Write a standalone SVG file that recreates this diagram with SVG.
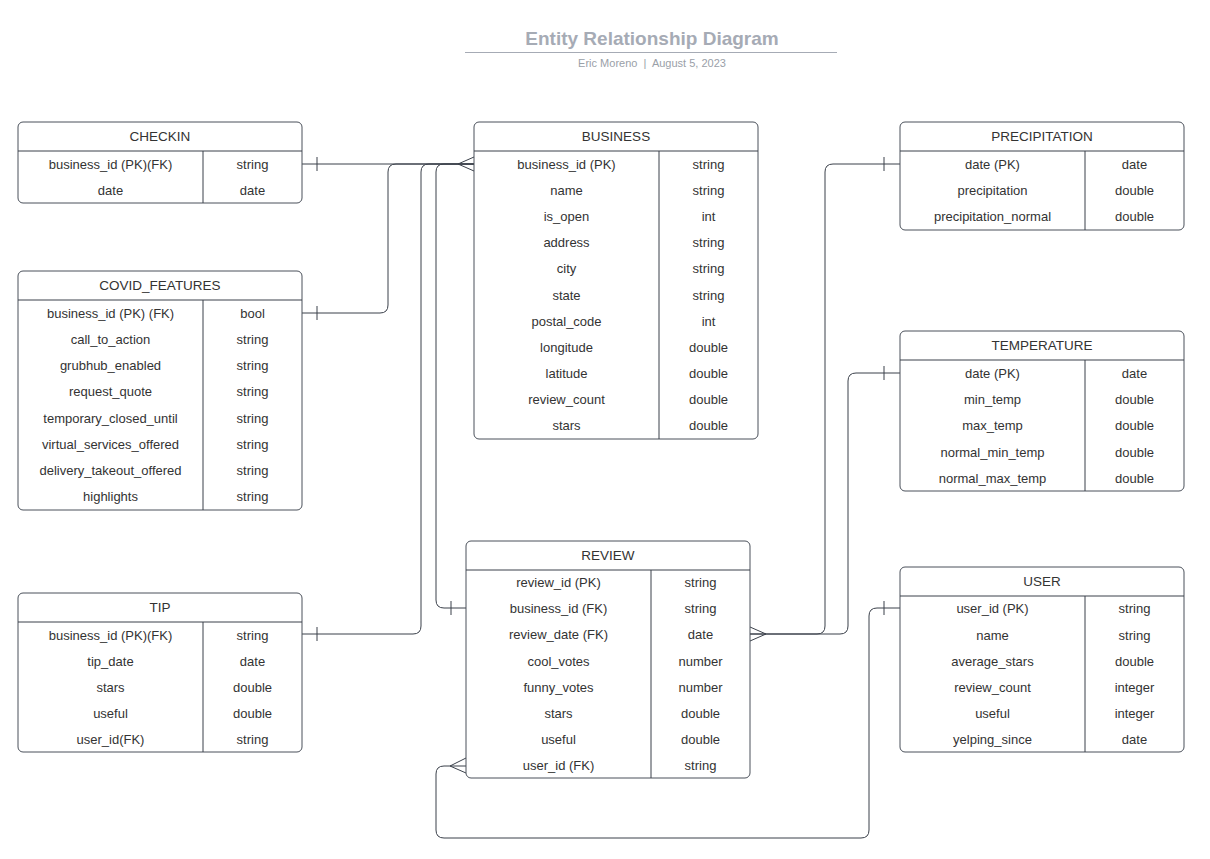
<svg xmlns="http://www.w3.org/2000/svg" width="1210" height="859" viewBox="0 0 1210 859">
<style>
.box{fill:#fff;stroke:#4a505a;stroke-width:1}
.ln{stroke:#3b414b;stroke-width:1;fill:none}
.t{font-family:"Liberation Sans",Arial,sans-serif;font-size:13px;fill:#333;text-anchor:middle;dominant-baseline:central}
.h{font-size:13.5px}
.cn{stroke:#3b414b;stroke-width:1;fill:none}
</style>
<rect width="1210" height="859" fill="#fff"/>
<g id="title">
<text x="652" y="45" text-anchor="middle" font-family="Liberation Sans,Arial,sans-serif" font-size="19" font-weight="bold" fill="#a6abb5">Entity Relationship Diagram</text>
<line x1="465" y1="52.5" x2="837" y2="52.5" stroke="#a6abb5" stroke-width="1"/>
<text x="652" y="67" text-anchor="middle" font-family="Liberation Sans,Arial,sans-serif" font-size="11" fill="#9aa0a8" xml:space="preserve" style="white-space:pre">Eric Moreno  |  August 5, 2023</text>
</g>
<g id="connectors">
<path class="cn" d="M302,164 H474"/>
<path class="cn" d="M302,313 H380 Q388,313 388,305 V172 Q388,164 396,164 H474"/>
<path class="cn" d="M302,634 H413 Q421,634 421,626 V172 Q421,164 429,164 H474"/>
<path class="cn" d="M466,608 H444 Q436,608 436,600 V172 Q436,164 444,164 H474"/>
<path class="cn" d="M750,634 H817 Q825,634 825,626 V172 Q825,164 833,164 H900"/>
<path class="cn" d="M750,634 H840 Q848,634 848,626 V381 Q848,373 856,373 H900"/>
<path class="cn" d="M900,608 H877 Q869,608 869,616 V830 Q869,838 861,838 H444 Q436,838 436,830 V774 Q436,766 444,766 H466"/>
<path class="cn" d="M317,157 V171 M317,306 V320 M317,627 V641 M451,601 V615 M884,157 V171 M884,366 V380 M884,601 V615"/>
<path class="cn" d="M474,157 L458,164 L474,171"/>
<path class="cn" d="M750,627 L766,634 L750,641"/>
<path class="cn" d="M466,758 L450,766 L466,773"/>
</g>
<g id="checkin">
<rect class="box" x="18" y="122" width="284" height="81" rx="5"/>
<line class="ln" x1="18" y1="151" x2="302" y2="151"/>
<line class="ln" x1="203" y1="151" x2="203" y2="203"/>
<text class="t h" x="160" y="136">CHECKIN</text>
<text class="t" x="110.5" y="164">business_id (PK)(FK)</text><text class="t" x="252.5" y="164">string</text>
<text class="t" x="110.5" y="190">date</text><text class="t" x="252.5" y="190">date</text>
</g>
<g id="covid_features">
<rect class="box" x="18" y="271" width="284" height="239" rx="5"/>
<line class="ln" x1="18" y1="300" x2="302" y2="300"/>
<line class="ln" x1="203" y1="300" x2="203" y2="510"/>
<text class="t h" x="160" y="285">COVID_FEATURES</text>
<text class="t" x="110.5" y="313">business_id (PK) (FK)</text><text class="t" x="252.5" y="313">bool</text>
<text class="t" x="110.5" y="339">call_to_action</text><text class="t" x="252.5" y="339">string</text>
<text class="t" x="110.5" y="365">grubhub_enabled</text><text class="t" x="252.5" y="365">string</text>
<text class="t" x="110.5" y="391">request_quote</text><text class="t" x="252.5" y="391">string</text>
<text class="t" x="110.5" y="418">temporary_closed_until</text><text class="t" x="252.5" y="418">string</text>
<text class="t" x="110.5" y="444">virtual_services_offered</text><text class="t" x="252.5" y="444">string</text>
<text class="t" x="110.5" y="470">delivery_takeout_offered</text><text class="t" x="252.5" y="470">string</text>
<text class="t" x="110.5" y="496">highlights</text><text class="t" x="252.5" y="496">string</text>
</g>
<g id="tip">
<rect class="box" x="18" y="593" width="284" height="159" rx="5"/>
<line class="ln" x1="18" y1="622" x2="302" y2="622"/>
<line class="ln" x1="203" y1="622" x2="203" y2="752"/>
<text class="t h" x="160" y="607">TIP</text>
<text class="t" x="110.5" y="635">business_id (PK)(FK)</text><text class="t" x="252.5" y="635">string</text>
<text class="t" x="110.5" y="661">tip_date</text><text class="t" x="252.5" y="661">date</text>
<text class="t" x="110.5" y="687">stars</text><text class="t" x="252.5" y="687">double</text>
<text class="t" x="110.5" y="713">useful</text><text class="t" x="252.5" y="713">double</text>
<text class="t" x="110.5" y="739">user_id(FK)</text><text class="t" x="252.5" y="739">string</text>
</g>
<g id="business">
<rect class="box" x="474" y="122" width="284" height="317" rx="5"/>
<line class="ln" x1="474" y1="151" x2="758" y2="151"/>
<line class="ln" x1="659" y1="151" x2="659" y2="439"/>
<text class="t h" x="616" y="136">BUSINESS</text>
<text class="t" x="566.5" y="164">business_id (PK)</text><text class="t" x="708.5" y="164">string</text>
<text class="t" x="566.5" y="190">name</text><text class="t" x="708.5" y="190">string</text>
<text class="t" x="566.5" y="216">is_open</text><text class="t" x="708.5" y="216">int</text>
<text class="t" x="566.5" y="242">address</text><text class="t" x="708.5" y="242">string</text>
<text class="t" x="566.5" y="268">city</text><text class="t" x="708.5" y="268">string</text>
<text class="t" x="566.5" y="295">state</text><text class="t" x="708.5" y="295">string</text>
<text class="t" x="566.5" y="321">postal_code</text><text class="t" x="708.5" y="321">int</text>
<text class="t" x="566.5" y="347">longitude</text><text class="t" x="708.5" y="347">double</text>
<text class="t" x="566.5" y="373">latitude</text><text class="t" x="708.5" y="373">double</text>
<text class="t" x="566.5" y="399">review_count</text><text class="t" x="708.5" y="399">double</text>
<text class="t" x="566.5" y="425">stars</text><text class="t" x="708.5" y="425">double</text>
</g>
<g id="review">
<rect class="box" x="466" y="541" width="284" height="237" rx="5"/>
<line class="ln" x1="466" y1="570" x2="750" y2="570"/>
<line class="ln" x1="651" y1="570" x2="651" y2="778"/>
<text class="t h" x="608" y="555">REVIEW</text>
<text class="t" x="558.5" y="582">review_id (PK)</text><text class="t" x="700.5" y="582">string</text>
<text class="t" x="558.5" y="608">business_id (FK)</text><text class="t" x="700.5" y="608">string</text>
<text class="t" x="558.5" y="634">review_date (FK)</text><text class="t" x="700.5" y="634">date</text>
<text class="t" x="558.5" y="661">cool_votes</text><text class="t" x="700.5" y="661">number</text>
<text class="t" x="558.5" y="687">funny_votes</text><text class="t" x="700.5" y="687">number</text>
<text class="t" x="558.5" y="713">stars</text><text class="t" x="700.5" y="713">double</text>
<text class="t" x="558.5" y="739">useful</text><text class="t" x="700.5" y="739">double</text>
<text class="t" x="558.5" y="765">user_id (FK)</text><text class="t" x="700.5" y="765">string</text>
</g>
<g id="precipitation">
<rect class="box" x="900" y="122" width="284" height="108" rx="5"/>
<line class="ln" x1="900" y1="151" x2="1184" y2="151"/>
<line class="ln" x1="1085" y1="151" x2="1085" y2="230"/>
<text class="t h" x="1042" y="136">PRECIPITATION</text>
<text class="t" x="992.5" y="164">date (PK)</text><text class="t" x="1134.5" y="164">date</text>
<text class="t" x="992.5" y="190">precipitation</text><text class="t" x="1134.5" y="190">double</text>
<text class="t" x="992.5" y="216">precipitation_normal</text><text class="t" x="1134.5" y="216">double</text>
</g>
<g id="temperature">
<rect class="box" x="900" y="331" width="284" height="160" rx="5"/>
<line class="ln" x1="900" y1="360" x2="1184" y2="360"/>
<line class="ln" x1="1085" y1="360" x2="1085" y2="491"/>
<text class="t h" x="1042" y="345">TEMPERATURE</text>
<text class="t" x="992.5" y="373">date (PK)</text><text class="t" x="1134.5" y="373">date</text>
<text class="t" x="992.5" y="399">min_temp</text><text class="t" x="1134.5" y="399">double</text>
<text class="t" x="992.5" y="425">max_temp</text><text class="t" x="1134.5" y="425">double</text>
<text class="t" x="992.5" y="452">normal_min_temp</text><text class="t" x="1134.5" y="452">double</text>
<text class="t" x="992.5" y="478">normal_max_temp</text><text class="t" x="1134.5" y="478">double</text>
</g>
<g id="user">
<rect class="box" x="900" y="567" width="284" height="185" rx="5"/>
<line class="ln" x1="900" y1="596" x2="1184" y2="596"/>
<line class="ln" x1="1085" y1="596" x2="1085" y2="752"/>
<text class="t h" x="1042" y="581">USER</text>
<text class="t" x="992.5" y="608">user_id (PK)</text><text class="t" x="1134.5" y="608">string</text>
<text class="t" x="992.5" y="635">name</text><text class="t" x="1134.5" y="635">string</text>
<text class="t" x="992.5" y="661">average_stars</text><text class="t" x="1134.5" y="661">double</text>
<text class="t" x="992.5" y="687">review_count</text><text class="t" x="1134.5" y="687">integer</text>
<text class="t" x="992.5" y="713">useful</text><text class="t" x="1134.5" y="713">integer</text>
<text class="t" x="992.5" y="739">yelping_since</text><text class="t" x="1134.5" y="739">date</text>
</g>
</svg>
